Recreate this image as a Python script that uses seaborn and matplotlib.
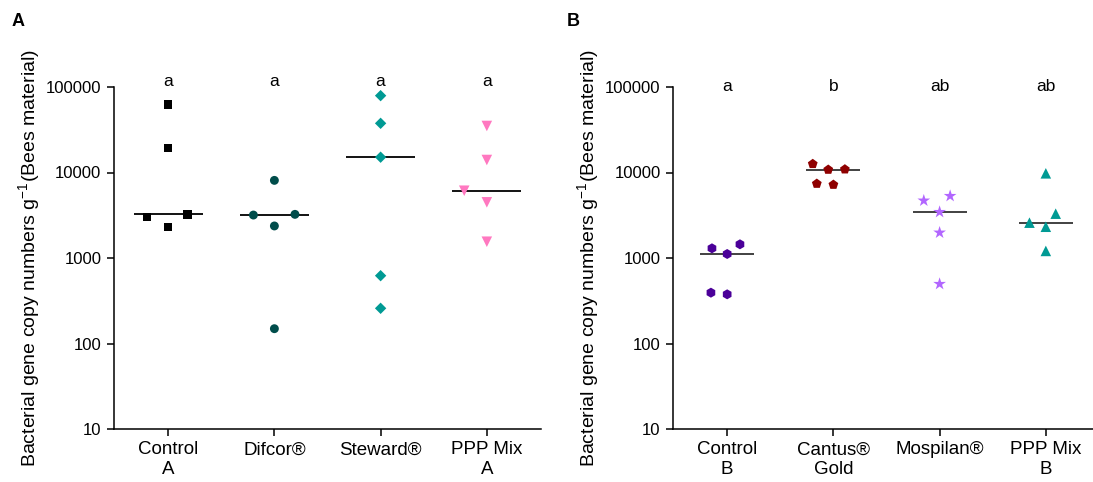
import numpy as np
import pandas as pd
import matplotlib
matplotlib.use("Agg")
import matplotlib.pyplot as plt
import matplotlib.ticker as mticker
import matplotlib.transforms as mtransforms
import seaborn as sns

# ---------------- data ----------------
groups_a = ["Control\nA", "Difcor®", "Steward®", "PPP Mix\nA"]
control_a = [3240, 2320, 62700, 19400, 2990]
difcor = [3180, 2370, 3240, 8090, 149]
steward = [15100, 79200, 37600, 621, 258]
ppp_mix_a = [6120, 4480, 35000, 1550, 14000]
letters_a = ["a", "a", "a", "a"]

groups_b = ["Control\nB", "Cantus®\nGold", "Mospilan®", "PPP Mix\nB"]
control_b = [1446, 376, 1114, 393, 1298]
cantus_gold = [7400, 10900, 12600, 10800, 7200]
mospilan = [5310, 1980, 497, 4690, 3450]
ppp_mix_b = [2590, 9780, 2320, 1210, 3300]
letters_b = ["a", "b", "ab", "ab"]

yticks = [10, 100, 1000, 10000, 100000]
ytick_labels = ["10", "100", "1000", "10000", "100000"]
ylabel = "Bacterial gene copy numbers g$^{-1}$(Bees material)"

# ---------------- style ----------------
sns.set_theme(style="ticks")
plt.rcParams["font.family"] = ["Liberation Sans", "DejaVu Sans"]
plt.rcParams["mathtext.fontset"] = "custom"
plt.rcParams["mathtext.rm"] = "Liberation Sans"
plt.rcParams["mathtext.it"] = "Liberation Sans:italic"
plt.rcParams["mathtext.bf"] = "Liberation Sans:bold"
plt.rcParams["mathtext.default"] = "regular"
for key in ["text.color", "axes.labelcolor", "xtick.color", "ytick.color",
            "axes.edgecolor"]:
    plt.rcParams[key] = "black"

colors_a = ["#000000", "#004d4b", "#009a94", "#ff78c0"]
markers_a = ["s", "o", "D", "v"]
sizes_a = [6.0, 6.4, 5.8, 7.6]

colors_b = ["#4b0099", "#8f0000", "#b266ff", "#009a94"]
markers_b = ["h", "p", "*", "^"]
sizes_b = [7.2, 7.4, 9.6, 7.6]

fig = plt.figure(figsize=(10.93, 4.82), dpi=100)
ax_a = fig.add_axes([114 / 1093, 53 / 482, 427 / 1093, 342 / 482])
ax_b = fig.add_axes([673 / 1093, 53 / 482, 427 / 1093, 342 / 482])


def draw_panel(ax, groups, series, colors, markers, sizes, letters,
               med_width, med_color, letter_y, swarm_gap):
    df = pd.concat(
        [pd.DataFrame({"group": g, "value": v}) for g, v in zip(groups, series)],
        ignore_index=True,
    )
    ax.set_yscale("log")
    ax.set_ylim(10, 100000)
    sns.boxplot(
        data=df, x="group", y="value", order=groups, ax=ax,
        width=med_width, showbox=False, showcaps=False, showfliers=False,
        whiskerprops={"visible": False},
        medianprops={"color": med_color, "linewidth": 1.3},
    )
    # invisible marker edge widens the swarm spacing (GraphPad-like spread)
    for g, c, m, s in zip(groups, colors, markers, sizes):
        sns.swarmplot(
            data=df[df["group"] == g], x="group", y="value", order=groups,
            ax=ax, color=c, marker=m, size=s, linewidth=swarm_gap,
            edgecolor="none", zorder=4,
        )
    ax.set_xlim(-0.51, 3.51)
    ax.set_ylim(10, 100000)
    ax.yaxis.set_major_locator(mticker.FixedLocator(yticks))
    ax.yaxis.set_minor_locator(mticker.NullLocator())
    ax.set_yticklabels(ytick_labels)
    ax.set_xlabel("")
    ax.set_ylabel(ylabel, fontsize=14)
    ax.yaxis.set_label_coords(-0.168, 0.5)
    for side in ["top", "right"]:
        ax.spines[side].set_visible(False)
    for side in ["left", "bottom"]:
        ax.spines[side].set_linewidth(1.1)
        ax.spines[side].set_color("black")
    ax.tick_params(axis="y", length=5, width=1.1, pad=4, labelsize=12, colors="black")
    ax.tick_params(axis="x", length=5, width=1.1, pad=4, labelsize=13.5, colors="black")
    trans = mtransforms.blended_transform_factory(ax.transData, ax.transAxes)
    for i, lt in enumerate(letters):
        ax.text(i, letter_y, lt, transform=trans, ha="center", va="baseline",
                fontsize=12.5, color="black", clip_on=False)


draw_panel(ax_a, groups_a, [control_a, difcor, steward, ppp_mix_a],
           colors_a, markers_a, sizes_a, letters_a, 0.65, "black", 1.003, 10.0)
draw_panel(ax_b, groups_b, [control_b, cantus_gold, mospilan, ppp_mix_b],
           colors_b, markers_b, sizes_b, letters_b, 0.51, "#333333", 0.988, 4.0)

fig.text(12 / 1093, 1 - 22 / 482, "A", fontsize=13, fontweight="bold",
         ha="left", va="center")
fig.text(567 / 1093, 1 - 22 / 482, "B", fontsize=13, fontweight="bold",
         ha="left", va="center")

fig.savefig("out.png", dpi=100)
